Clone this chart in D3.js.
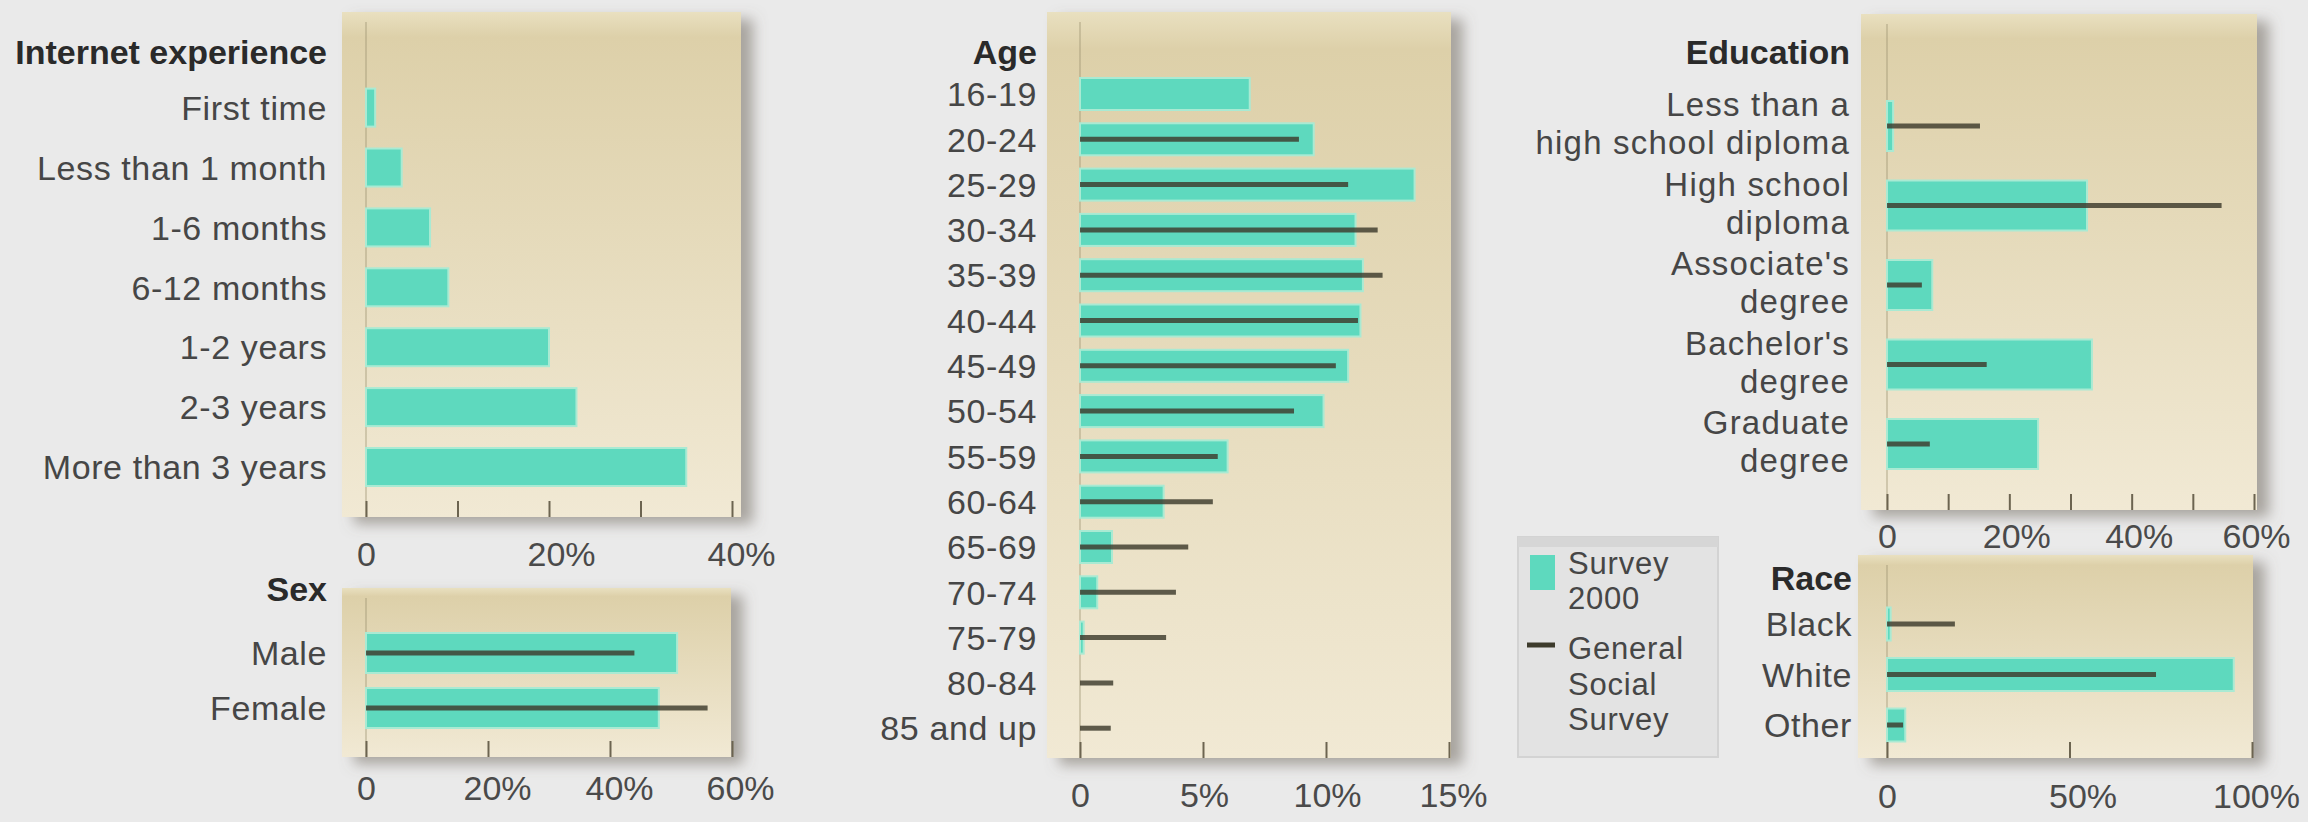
<!DOCTYPE html>
<html>
<head>
<meta charset="utf-8">
<script src="https://cdn.jsdelivr.net/npm/d3@7"></script>
<style>
  body { margin: 0; background: #eaeaea; }
</style>
</head>
<body>
<script>
// ---- data (percent) ----
const internetCats = ["First time", "Less than 1 month", "1-6 months", "6-12 months", "1-2 years", "2-3 years", "More than 3 years"];
const internetSurvey = [1, 3.9, 7, 9, 20, 23, 35];

const sexCats = ["Male", "Female"];
const sexSurvey = [51, 48];
const sexGSS = [44, 56];

const ageCats = ["16-19", "20-24", "25-29", "30-34", "35-39", "40-44", "45-49", "50-54", "55-59", "60-64", "65-69", "70-74", "75-79", "80-84", "85 and up"];
const ageSurvey = [6.9, 9.5, 13.6, 11.2, 11.5, 11.4, 10.9, 9.9, 6.0, 3.4, 1.3, 0.7, 0.15, 0, 0];
const ageGSS = [null, 8.9, 10.9, 12.1, 12.3, 11.3, 10.4, 8.7, 5.6, 5.4, 4.4, 3.9, 3.5, 1.35, 1.25];

const eduCats = ["Less than a\nhigh school diploma", "High school\ndiploma", "Associate's\ndegree", "Bachelor's\ndegree", "Graduate\ndegree"];
const eduSurvey = [1, 32.7, 7.4, 33.5, 24.7];
const eduGSS = [15.2, 54.7, 5.7, 16.3, 7.0];

const raceCats = ["Black", "White", "Other"];
const raceSurvey = [1, 95, 5];
const raceGSS = [18.6, 73.7, 4.4];

const legendSurvey = ["Survey", "2000"];
const legendGSS = ["General", "Social", "Survey"];

// ---- setup ----
const width = 2308;
const height = 822;
const FONT = "'Liberation Sans', Arial, Helvetica, sans-serif";
const TEAL = "#5ed9be";
const GSS_COLOR = "#3d3b2c";

const svg = d3.select("body")
  .append("svg")
  .attr("width", width)
  .attr("height", height);

svg.append("rect")
  .attr("width", width)
  .attr("height", height)
  .attr("fill", "#eaeaea");

const defs = svg.append("defs");

const shadow = defs.append("filter")
  .attr("id", "shadow")
  .attr("x", "-10%").attr("y", "-10%")
  .attr("width", "130%").attr("height", "130%");
shadow.append("feDropShadow")
  .attr("dx", 12).attr("dy", 7)
  .attr("stdDeviation", 7)
  .attr("flood-color", "#6f6a60")
  .attr("flood-opacity", 0.55);

const grad = defs.append("linearGradient")
  .attr("id", "bgGrad")
  .attr("x1", 0).attr("y1", 0).attr("x2", 0).attr("y2", 1);
grad.append("stop").attr("offset", "0%").attr("stop-color", "#e9e0c0");
grad.append("stop").attr("offset", "5%").attr("stop-color", "#ddd0a9");
grad.append("stop").attr("offset", "100%").attr("stop-color", "#f1e9d4");

// draws one small bar panel
function panel(p) {
  const g = svg.append("g");
  const [bx0, by0, bx1, by1] = p.bg;

  g.append("rect")
    .attr("x", bx0).attr("y", by0)
    .attr("width", bx1 - bx0).attr("height", by1 - by0)
    .attr("fill", "url(#bgGrad)")
    .attr("filter", "url(#shadow)");

  const x = d3.scaleLinear()
    .domain([0, p.xMax])
    .range([p.x0, p.x1]);

  const n = p.cats.length;
  const pad = 1 - p.barH / p.step;
  const y = d3.scaleBand()
    .domain(p.cats)
    .range([p.rowTop - p.step / 2, p.rowTop + (n - 1) * p.step + p.step / 2])
    .paddingInner(pad)
    .paddingOuter(pad / 2);

  // zero line
  g.append("line")
    .attr("x1", x(0)).attr("x2", x(0))
    .attr("y1", by0 + 10).attr("y2", by1)
    .attr("stroke", "#9b9270")
    .attr("stroke-width", 1.5)
    .attr("opacity", 0.5);

  // Survey 2000 bars
  g.selectAll(".bar")
    .data(p.cats.map((c, i) => ({ c, v: p.survey[i] })).filter(d => d.v > 0))
    .enter()
    .append("rect")
    .attr("x", x(0))
    .attr("y", d => y(d.c))
    .attr("width", d => x(d.v) - x(0))
    .attr("height", y.bandwidth())
    .attr("fill", TEAL)
    .attr("stroke", "#a9ead3")
    .attr("stroke-width", 2);

  // General Social Survey lines
  if (p.gss) {
    g.selectAll(".gss")
      .data(p.cats.map((c, i) => ({ c, v: p.gss[i] })).filter(d => d.v != null))
      .enter()
      .append("line")
      .attr("x1", x(0))
      .attr("x2", d => x(d.v))
      .attr("y1", d => y(d.c) + y.bandwidth() / 2)
      .attr("y2", d => y(d.c) + y.bandwidth() / 2)
      .attr("stroke", GSS_COLOR)
      .attr("stroke-opacity", 0.82)
      .attr("stroke-width", 5);
  }

  // bottom axis, ticks pointing up inside the box
  const xAxis = d3.axisBottom(x)
    .tickValues(p.ticks)
    .tickSizeInner(-16)
    .tickSizeOuter(0)
    .tickFormat(d => p.labeled.includes(d) ? (d === 0 ? "0" : d + "%") : "");

  const ax = g.append("g")
    .attr("transform", `translate(0,${by1})`)
    .call(xAxis);
  ax.select(".domain").remove();
  ax.selectAll(".tick line")
    .attr("stroke", "#6c6450")
    .attr("stroke-width", 2);
  ax.attr("font-family", FONT).attr("font-size", 34);
  ax.selectAll(".tick text")
    .attr("fill", "#4a4a4a")
    .attr("y", p.tickLabelY - by1)
    .attr("dy", 0)
    .attr("dx", d => d === 0 ? 0 : (d === p.xMax ? p.lastShift : p.pctShift));

  // category labels
  const yAxis = d3.axisLeft(y).tickSize(0).tickPadding(0);
  const ay = g.append("g")
    .attr("transform", `translate(${p.labelX},0)`)
    .call(yAxis);
  ay.select(".domain").remove();
  ay.attr("font-family", FONT).attr("font-size", 34);
  ay.selectAll(".tick text")
    .attr("fill", "#464646")
    .attr("letter-spacing", 0.6)
    .attr("dy", "0.36em")
    .each(function(d) {
      const lines = d.split("\n");
      if (lines.length < 2) return;
      const t = d3.select(this)
        .text(null)
        .attr("dy", null)
        .attr("font-size", 33)
        .attr("letter-spacing", 1.2);
      lines.forEach((s, i) => {
        t.append("tspan")
          .attr("x", 0)
          .attr("dy", i === 0 ? (12 - 19 + p.labelNudge) : 38)
          .text(s);
      });
    });

  // panel title
  g.append("text")
    .attr("x", p.labelX)
    .attr("y", p.titleY)
    .attr("text-anchor", "end")
    .attr("font-family", FONT)
    .attr("font-size", 34)
    .attr("font-weight", "bold")
    .attr("fill", "#2a2a2a")
    .text(p.title);
}

panel({
  title: "Internet experience", cats: internetCats, survey: internetSurvey, gss: null,
  xMax: 40, x0: 366, x1: 732, ticks: [0, 10, 20, 30, 40], labeled: [0, 20, 40],
  bg: [342, 12, 741, 517], rowTop: 107.6, step: 59.9, barH: 38,
  labelX: 327, titleY: 64, tickLabelY: 566, pctShift: 12, lastShift: 9, labelNudge: 0
});

panel({
  title: "Sex", cats: sexCats, survey: sexSurvey, gss: sexGSS,
  xMax: 60, x0: 366, x1: 732, ticks: [0, 20, 40, 60], labeled: [0, 20, 40, 60],
  bg: [342, 588, 731, 757], rowTop: 653, step: 55, barH: 40,
  labelX: 327, titleY: 601, tickLabelY: 800, pctShift: 9, lastShift: 8, labelNudge: 0
});

panel({
  title: "Age", cats: ageCats, survey: ageSurvey, gss: ageGSS,
  xMax: 15, x0: 1080, x1: 1449, ticks: [0, 5, 10, 15], labeled: [0, 5, 10, 15],
  bg: [1047, 12, 1451, 758], rowTop: 94, step: 45.3, barH: 32,
  labelX: 1037, titleY: 64, tickLabelY: 807, pctShift: 1, lastShift: 4, labelNudge: 0
});

panel({
  title: "Education", cats: eduCats, survey: eduSurvey, gss: eduGSS,
  xMax: 60, x0: 1887, x1: 2254, ticks: [0, 10, 20, 30, 40, 50, 60], labeled: [0, 20, 40, 60],
  bg: [1861, 14, 2257, 510], rowTop: 126, step: 79.5, barH: 50,
  labelX: 1850, titleY: 64, tickLabelY: 548, pctShift: 7, lastShift: 2, labelNudge: -3
});

panel({
  title: "Race", cats: raceCats, survey: raceSurvey, gss: raceGSS,
  xMax: 100, x0: 1887, x1: 2252, ticks: [0, 50, 100], labeled: [0, 50, 100],
  bg: [1858, 555, 2253, 758], rowTop: 624, step: 50.5, barH: 33,
  labelX: 1852, titleY: 590, tickLabelY: 808, pctShift: 13, lastShift: 4, labelNudge: 0
});

// ---- legend ----
const lg = svg.append("g");
lg.append("rect")
  .attr("x", 1518).attr("y", 537)
  .attr("width", 200).attr("height", 220)
  .attr("fill", "#e3e3e3")
  .attr("stroke", "#d3d3d3")
  .attr("stroke-width", 2);
lg.append("rect")
  .attr("x", 1518).attr("y", 537)
  .attr("width", 200).attr("height", 10)
  .attr("fill", "#d6d6d6");
lg.append("rect")
  .attr("x", 1530).attr("y", 555)
  .attr("width", 25).attr("height", 35)
  .attr("fill", TEAL);
lg.append("line")
  .attr("x1", 1527).attr("x2", 1555)
  .attr("y1", 645).attr("y2", 645)
  .attr("stroke", GSS_COLOR)
  .attr("stroke-width", 5);

const legendLines = legendSurvey.map((s, i) => ({ s, y: 574 + i * 35 }))
  .concat(legendGSS.map((s, i) => ({ s, y: 659 + i * 35.5 })));
lg.selectAll(".lt")
  .data(legendLines)
  .enter()
  .append("text")
  .attr("x", 1568)
  .attr("y", d => d.y)
  .attr("font-family", FONT)
  .attr("font-size", 31)
  .attr("letter-spacing", 0.8)
  .attr("fill", "#464646")
  .text(d => d.s);
</script>
</body>
</html>
